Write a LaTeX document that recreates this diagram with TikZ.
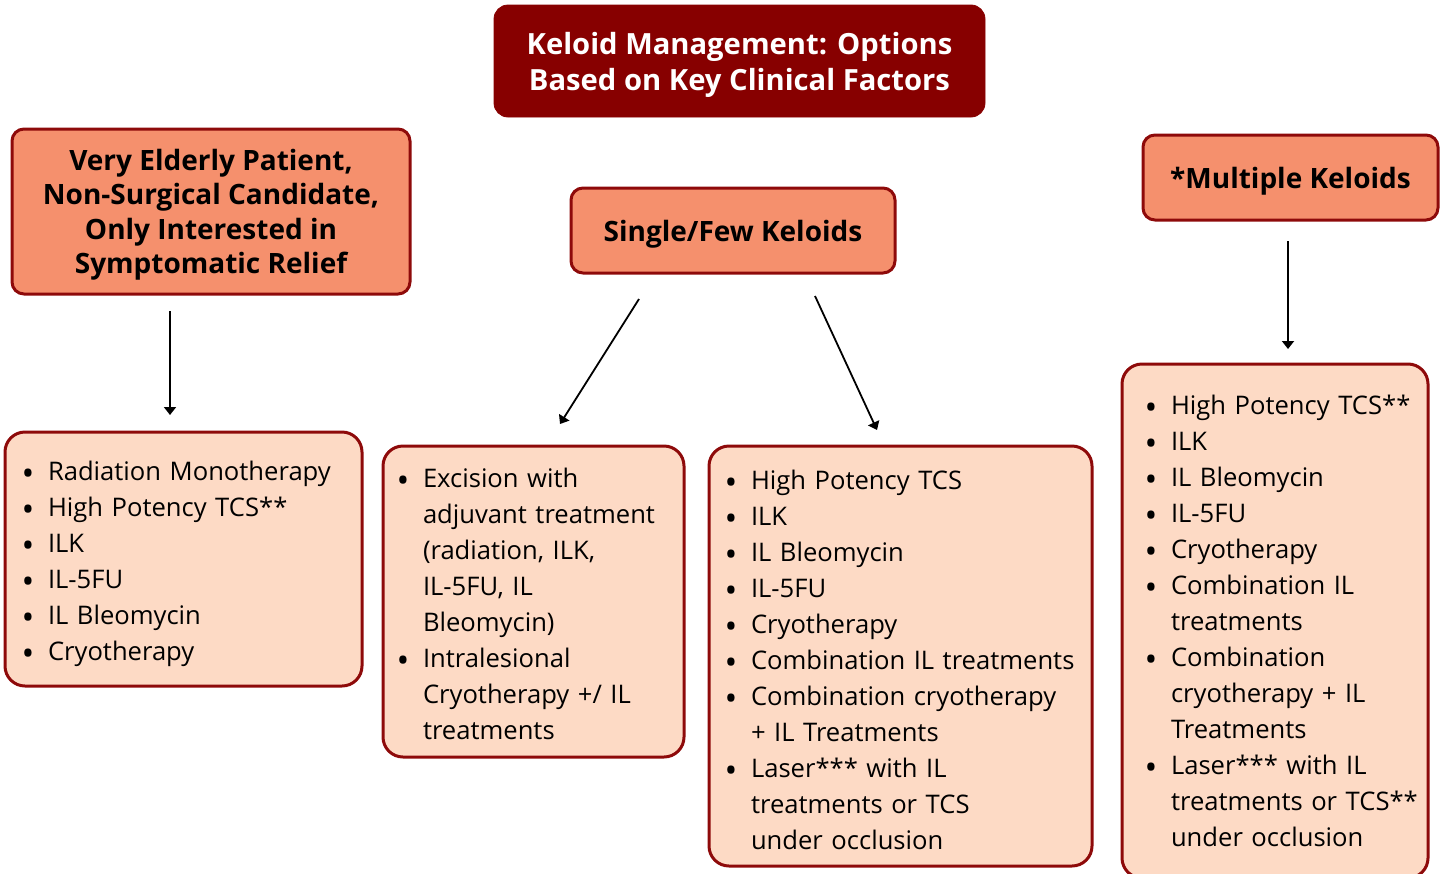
\documentclass[tikz,border=0pt]{standalone}
\usepackage{fontspec}
\setmainfont{Open Sans}
\usetikzlibrary{arrows.meta}
\definecolor{keloidred}{HTML}{870000}
\definecolor{boxedge}{HTML}{8E0A0A}
\definecolor{salmon}{HTML}{F5906D}
\definecolor{peach}{HTML}{FDDAC5}
\newcommand\optbullet{\makebox[0pt]{\raisebox{-2.5pt}{\fontsize{17pt}{17pt}\selectfont\textbullet}}}
% #1 = left margin of the items, #2 = padding below the last line
\newenvironment{opts}[2]{\def\optspad{#2}\begin{list}{\optbullet}{%
  \setlength\leftmargin{#1}\setlength\labelsep{10pt}%
  \setlength\labelwidth{0pt}\setlength\rightmargin{-20pt}\setlength\itemsep{0pt}%
  \setlength\parsep{0pt}\setlength\topsep{0pt}\setlength\partopsep{0pt}}}%
  {\end{list}\kern\optspad}
\tikzset{
  title/.style={fill=keloidred, draw=keloidred, rounded corners=7pt, text=white,
    font=\fontsize{14.6pt}{18pt}\selectfont\bfseries, align=center, text depth=0pt},
  factor/.style={fill=salmon, draw=boxedge, line width=1.5pt, rounded corners=6pt,
    font=\fontsize{14pt}{17.25pt}\selectfont\bfseries, align=center, inner sep=0pt, text depth=0pt},
  optbox/.style={fill=peach, draw=boxedge, line width=1.5pt, rounded corners=10pt,
    font=\fontsize{12.8pt}{18pt}\selectfont, inner ysep=0pt, inner xsep=4pt},
  arr/.style={-{Triangle[length=4pt,width=6pt]}, line width=0.9pt}
}
\begin{document}
\begin{tikzpicture}[x=0.5pt,y=-0.5pt]
	\useasboundingbox (0,0) rectangle (1440,873);
	% header and the three patient groups
	\node[title, minimum width=245.5pt, minimum height=56pt] (head) at (739.5,61) {Keloid Management: Options\\Based on Key Clinical Factors};
	\node[factor, minimum width=199pt, minimum height=82.5pt] (elderly) at (211,211.5) {Very Elderly Patient,\\Non-Surgical Candidate,\\Only Interested in\\Symptomatic Relief};
	\node[factor, minimum width=162pt, minimum height=42.5pt] (few) at (733,230.5) {Single/Few Keloids};
	\node[factor, minimum width=147.5pt, minimum height=42.5pt] (multi) at (1290.5,177.5) {*Multiple Keloids};
	% treatment options
	\node[optbox, text width=170.5pt, minimum height=127pt] (opt1) at (183.5,559) {\begin{opts}{17.5pt}{3pt}
		\item Radiation Monotherapy
		\item High Potency TCS**
		\item ILK
		\item IL-5FU
		\item IL Bleomycin
		\item Cryotherapy
	\end{opts}};
	\node[optbox, text width=142.5pt, minimum height=155.5pt] (opt2) at (533.5,601.5) {\begin{opts}{16pt}{6pt}
		\item Excision with\newline adjuvant treatment\newline (radiation, ILK,\newline IL-5FU, IL\newline Bleomycin)
		\item Intralesional\newline Cryotherapy +/ IL\newline treatments
	\end{opts}};
	\node[optbox, text width=183.5pt, minimum height=210pt] (opt3) at (900.5,656) {\begin{opts}{17pt}{4pt}
		\item High Potency TCS
		\item ILK
		\item IL Bleomycin
		\item IL-5FU
		\item Cryotherapy
		\item Combination IL treatments
		\item Combination cryotherapy\newline + IL Treatments
		\item Laser*** with IL\newline treatments or TCS\newline under occlusion
	\end{opts}};
	\node[optbox, text width=145pt, minimum height=257pt] (opt4) at (1275,621) {\begin{opts}{20.5pt}{8pt}
		\item High Potency TCS**
		\item ILK
		\item IL Bleomycin
		\item IL-5FU
		\item Cryotherapy
		\item Combination IL\newline treatments
		\item Combination\newline cryotherapy + IL\newline Treatments
		\item Laser*** with IL\newline treatments or TCS**\newline under occlusion
	\end{opts}};
	% arrows
	\coordinate (e1) at (170,311); \coordinate (e2) at (170,415);
	\coordinate (f1) at (639,299); \coordinate (f2) at (560,424);
	\coordinate (f3) at (815,296); \coordinate (f4) at (877,430);
	\coordinate (m1) at (1288,241); \coordinate (m2) at (1288,349);
	\draw[arr] (e1) -- (e2);
	\draw[arr] (f1) -- (f2);
	\draw[arr] (f3) -- (f4);
	\draw[arr] (m1) -- (m2);
\end{tikzpicture}
\end{document}
